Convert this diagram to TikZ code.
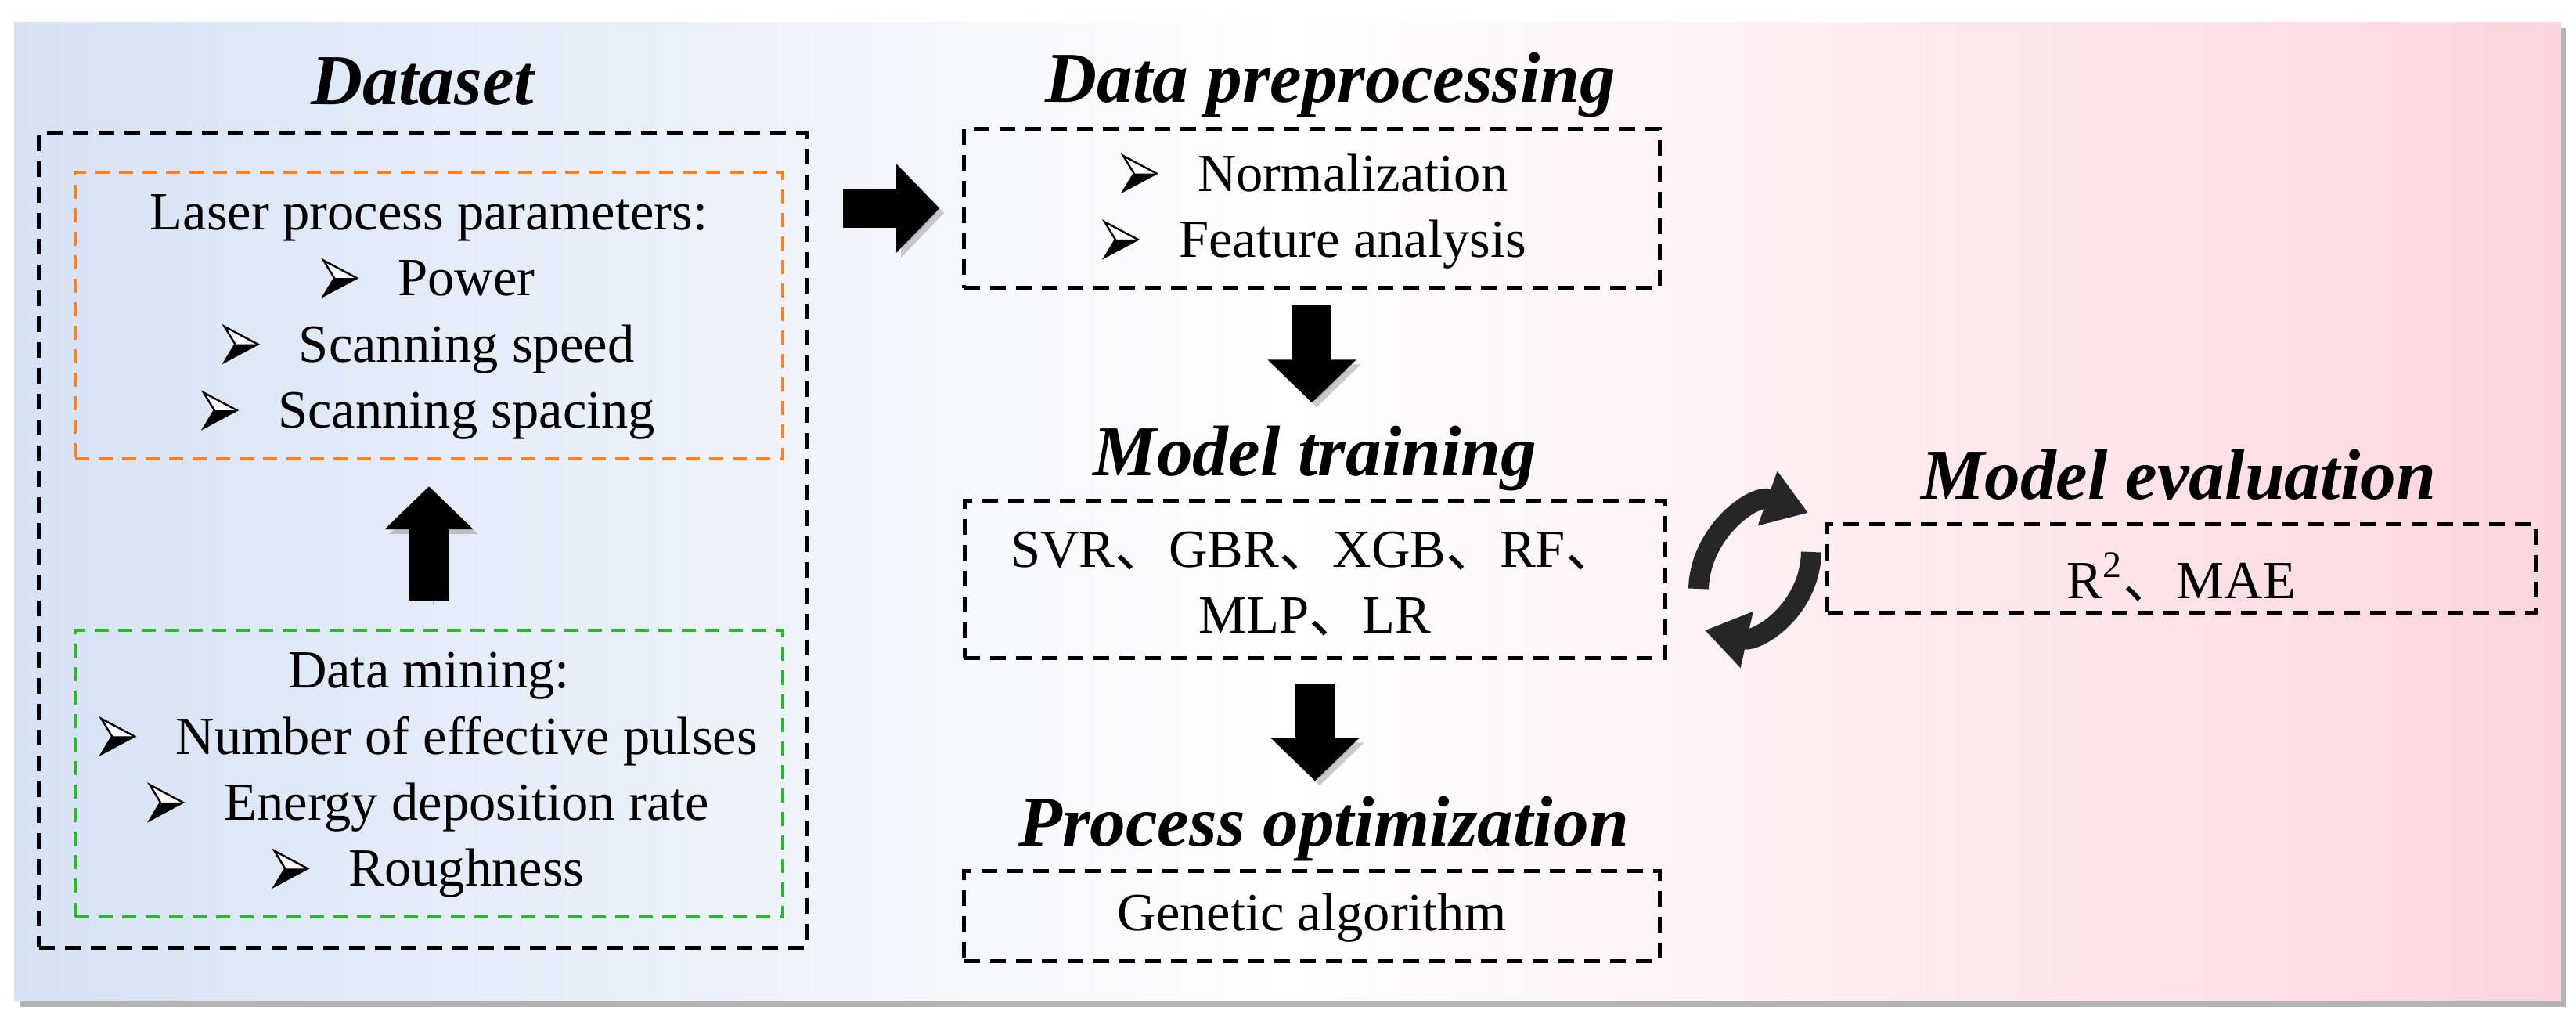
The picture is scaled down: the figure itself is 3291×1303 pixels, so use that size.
\documentclass[tikz,border=0pt]{standalone}
\usepackage{fontspec}
\setmainfont{Liberation Serif}
\newfontfamily\cjk{Noto Sans CJK SC}
\usetikzlibrary{arrows.meta}
\newcommand{\bul}{\tikz[baseline=0em,x=1em,y=1em]{%
  \fill[white] (0,0.66)--(0.62,0.33)--(0.2,0.33)--cycle;
  \fill[black] (0.62,0.33)--(0,0)--(0.2,0.33)--cycle;
  \draw[black,line width=0.035em,line join=miter] (0,0.66)--(0.62,0.33)--(0,0)--(0.2,0.33)--cycle;}\hspace{0.75em}}
\newcommand{\dun}{{\cjk 、}}
\definecolor{bgblue}{RGB}{214,226,244}
\definecolor{bgpink}{RGB}{252,214,220}
\definecolor{dorange}{RGB}{255,128,32}
\definecolor{dgreen}{RGB}{40,185,40}
\begin{document}
\begin{tikzpicture}[x=0.01cm,y=-0.01cm,
  body/.style={font=\fontsize{19.5}{24}\selectfont, align=center, inner sep=0pt},
  title/.style={font=\fontsize{26}{30}\selectfont\bfseries\itshape, anchor=base, inner sep=0pt},
  box/.style={draw=black, line width=0.05cm, dash pattern=on 0.2cm off 0.13cm, rectangle, inner sep=0pt},
  cbox/.style={line width=0.04cm, dash pattern=on 0.18cm off 0.12cm, rectangle, inner sep=0pt},
  block/.style={line width=0.5cm, -{Triangle[width=1.1cm,length=0.55cm]},
    preaction={draw=black!45, opacity=0.45, -{Triangle[width=1.1cm,length=0.55cm]}, transform canvas={shift={(0.06cm,-0.06cm)}}}},
  circ/.style={line width=0.26cm, draw=black!85, -{Triangle[width=0.7cm,length=0.55cm]}}
]
\useasboundingbox (0,0) rectangle (3291,1303);
% background
\fill[black!30] (26,36) rectangle (3278,1286);
\shade[left color=bgblue, right color=white] (18,28) rectangle (1650,1278);
\shade[left color=white, right color=bgpink] (1649,28) rectangle (3272,1278);

% Dataset column
\node[title] (tds) at (540,133) {Dataset};
\node[box, minimum width=9.8cm, minimum height=10.4cm] (outer) at (540,690) {};
\node[cbox, draw=dorange, minimum width=9.04cm, minimum height=3.66cm] (orange) at (548,403) {};
\node[body] (ot) at (548,405) {Laser process parameters:\\ \bul Power\\ \bul Scanning speed\\ \bul Scanning spacing};
\node[cbox, draw=dgreen, minimum width=9.04cm, minimum height=3.65cm] (green) at (548,988) {};
\node[body] (gt) at (548,990) {Data mining:\\ \bul Number of effective pulses\\ \bul Energy deposition rate\\ \bul Roughness};

% middle column
\node[title] (tpre) at (1700,130) {Data preprocessing};
\node[box, minimum width=8.88cm, minimum height=2.03cm] (prep) at (1676,266) {};
\node[body] (pt) at (1680,270) {\bul Normalization\\ \bul Feature analysis};
\node[title] (tmod) at (1680,607) {Model training};
\node[box, minimum width=8.95cm, minimum height=2.0cm] (model) at (1680,740) {};
\node[body] (mt) at (1680,746) {SVR\dun GBR\dun XGB\dun RF\dun\\ MLP\dun LR};
\node[title] (topt) at (1691,1080) {Process optimization};
\node[box, minimum width=8.88cm, minimum height=1.14cm] (proc) at (1676,1170) {};
\node[body] (prt) at (1676,1172) {Genetic algorithm};

% evaluation
\node[title] (teval) at (2783,637) {Model evaluation};
\node[box, minimum width=9.04cm, minimum height=1.13cm] (eval) at (2787,726) {};
\node[body] (et) at (2787,737) {R\textsuperscript{2}\dun MAE};

% block arrows
\draw[block, shorten <=0.36cm, shorten >=0.33cm] (green.north) -- (orange.south);
\draw[block, shorten <=0.44cm, shorten >=0.29cm] (outer.east |- prep.west) -- (prep.west);
\draw[block, shorten <=0.19cm, shorten >=1.23cm] (prep.south) -- (prep.south |- model.north);
\draw[block, shorten <=0.30cm, shorten >=1.13cm] (model.south) -- (model.south |- proc.north);

% circular arrows
\coordinate (c1s) at (2170,752);
\coordinate (c1e) at (2310,655);
\coordinate (c2s) at (2314,705);
\coordinate (c2e) at (2178,805);
\draw[circ] (c1s) .. controls (2172,680) and (2240,630) .. (c1e);
\draw[circ] (c2s) .. controls (2312,780) and (2245,820) .. (c2e);
\end{tikzpicture}
\end{document}
